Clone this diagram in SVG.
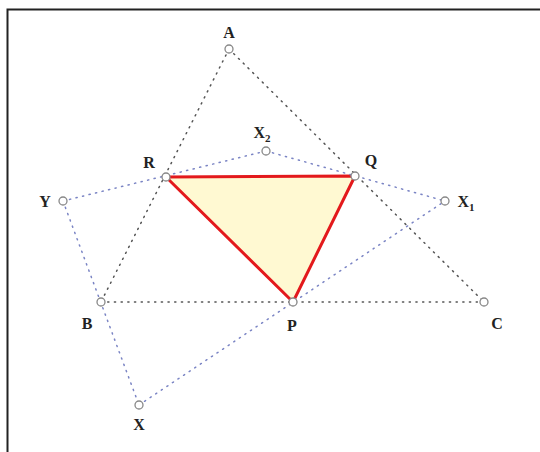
<svg xmlns="http://www.w3.org/2000/svg" width="540" height="452" viewBox="0 0 540 452">
<style>
.blk{stroke:#555;stroke-width:1.5;stroke-dasharray:1.2 5.5;stroke-linecap:round;fill:none}
.blu{stroke:#7a84c4;stroke-width:1.5;stroke-dasharray:1.2 5.5;stroke-linecap:round;fill:none}
.pt{fill:#fff;stroke:#888;stroke-width:1.3}
.lbl{font-family:"Liberation Serif","DejaVu Serif",serif;font-size:16px;font-weight:bold;fill:#222;text-anchor:middle}
.sub{font-size:11px}
</style>
<rect width="540" height="452" fill="#fff"/>
<path d="M7.5 452 V9.5 H540" fill="none" stroke="#222" stroke-width="2"/>
<g id="tri">
<polygon points="166,177 355,176 293,302" fill="#fff9d2" stroke="#e3191c" stroke-width="3" stroke-linejoin="round"/>
</g>
<g id="connectors">
<line class="blk" x1="229" y1="49" x2="101" y2="302"/>
<line class="blk" x1="229" y1="49" x2="484" y2="302"/>
<line class="blk" x1="101" y1="302" x2="484" y2="302"/>
<line class="blu" x1="63" y1="201" x2="266" y2="151"/>
<line class="blu" x1="266" y1="151" x2="445" y2="201"/>
<line class="blu" x1="63" y1="201" x2="139" y2="405"/>
<line class="blu" x1="139" y1="405" x2="445" y2="201"/>
</g>
<g id="A"><circle class="pt" cx="229" cy="49" r="4"/><text class="lbl" x="229" y="38">A</text></g>
<g id="R"><circle class="pt" cx="166" cy="177" r="4"/><text class="lbl" x="149" y="168">R</text></g>
<g id="Q"><circle class="pt" cx="355" cy="176" r="4"/><text class="lbl" x="371" y="166">Q</text></g>
<g id="X2"><circle class="pt" cx="266" cy="151" r="4"/><text class="lbl" x="262" y="138">X<tspan class="sub" dy="4">2</tspan></text></g>
<g id="Y"><circle class="pt" cx="63" cy="201" r="4"/><text class="lbl" x="45" y="207">Y</text></g>
<g id="X1"><circle class="pt" cx="445" cy="201" r="4"/><text class="lbl" x="466" y="207">X<tspan class="sub" dy="4">1</tspan></text></g>
<g id="B"><circle class="pt" cx="101" cy="302" r="4"/><text class="lbl" x="87" y="329">B</text></g>
<g id="P"><circle class="pt" cx="293" cy="302" r="4"/><text class="lbl" x="292" y="331">P</text></g>
<g id="C"><circle class="pt" cx="484" cy="302" r="4"/><text class="lbl" x="497" y="329">C</text></g>
<g id="X"><circle class="pt" cx="139" cy="405" r="4"/><text class="lbl" x="139" y="430">X</text></g>
</svg>
